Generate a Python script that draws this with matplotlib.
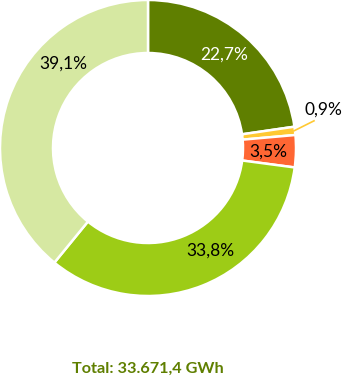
import numpy as np
import matplotlib.pyplot as plt

# valeurs
valeurs = [22.7, 0.9, 3.5, 33.8, 39.1]
etiquettes = ["22,7%", "0,9%", "3,5%", "33,8%", "39,1%"]
couleurs = ["#5f7f00", "#ffc933", "#ff6633", "#9dcc16", "#d6e8a2"]
couleurs_texte = ["white", "black", "black", "black", "black"]
position_etiquette = [0.48, None, 0.55, 0.42, 0.68]  # fraction dans la tranche
total = "Total: 33.671,4 GWh"

plt.rcParams['font.family'] = ['Lato', 'DejaVu Sans']

fig = plt.figure(figsize=(3.46, 3.81), dpi=100)
ax = fig.add_axes([0, 0, 1, 1])

cx, cy, R = 148, 233, 148
ax.pie(valeurs, colors=couleurs, startangle=90, counterclock=False,
       center=(cx, cy), radius=R, frame=True,
       wedgeprops=dict(width=53, edgecolor='white', linewidth=1.8))
ax.set_xlim(0, 346)
ax.set_ylim(0, 381)
ax.set_aspect('equal')
ax.axis('off')

cumul = np.concatenate([[0], np.cumsum(valeurs)]) / 100.0
r_lab = 120
for i, lab in enumerate(etiquettes):
    f = position_etiquette[i]
    if f is None:
        continue
    t = cumul[i] + f * (cumul[i + 1] - cumul[i])
    ang = np.deg2rad(90 - 360 * t)
    ax.text(cx + r_lab * np.cos(ang), cy + r_lab * np.sin(ang), lab,
            ha='center', va='center', fontsize=12.5, color=couleurs_texte[i])

# petite tranche : étiquette à l'extérieur
t = (cumul[1] + cumul[2]) / 2
ang = np.deg2rad(90 - 360 * t)
x0, y0 = cx + R * np.cos(ang), cy + R * np.sin(ang)
ax.plot([x0 - 1, x0 + 19], [y0, y0 + 10], color=couleurs[1], lw=1.2)
ax.text(x0 + 28, y0 + 21, etiquettes[1], ha='center', va='center',
        fontsize=12.5, color='black')

ax.text(148, 12, total, ha='center', va='center', fontsize=11.7,
        fontweight='bold', color="#5f7f00")

fig.savefig("out.png", dpi=100)
